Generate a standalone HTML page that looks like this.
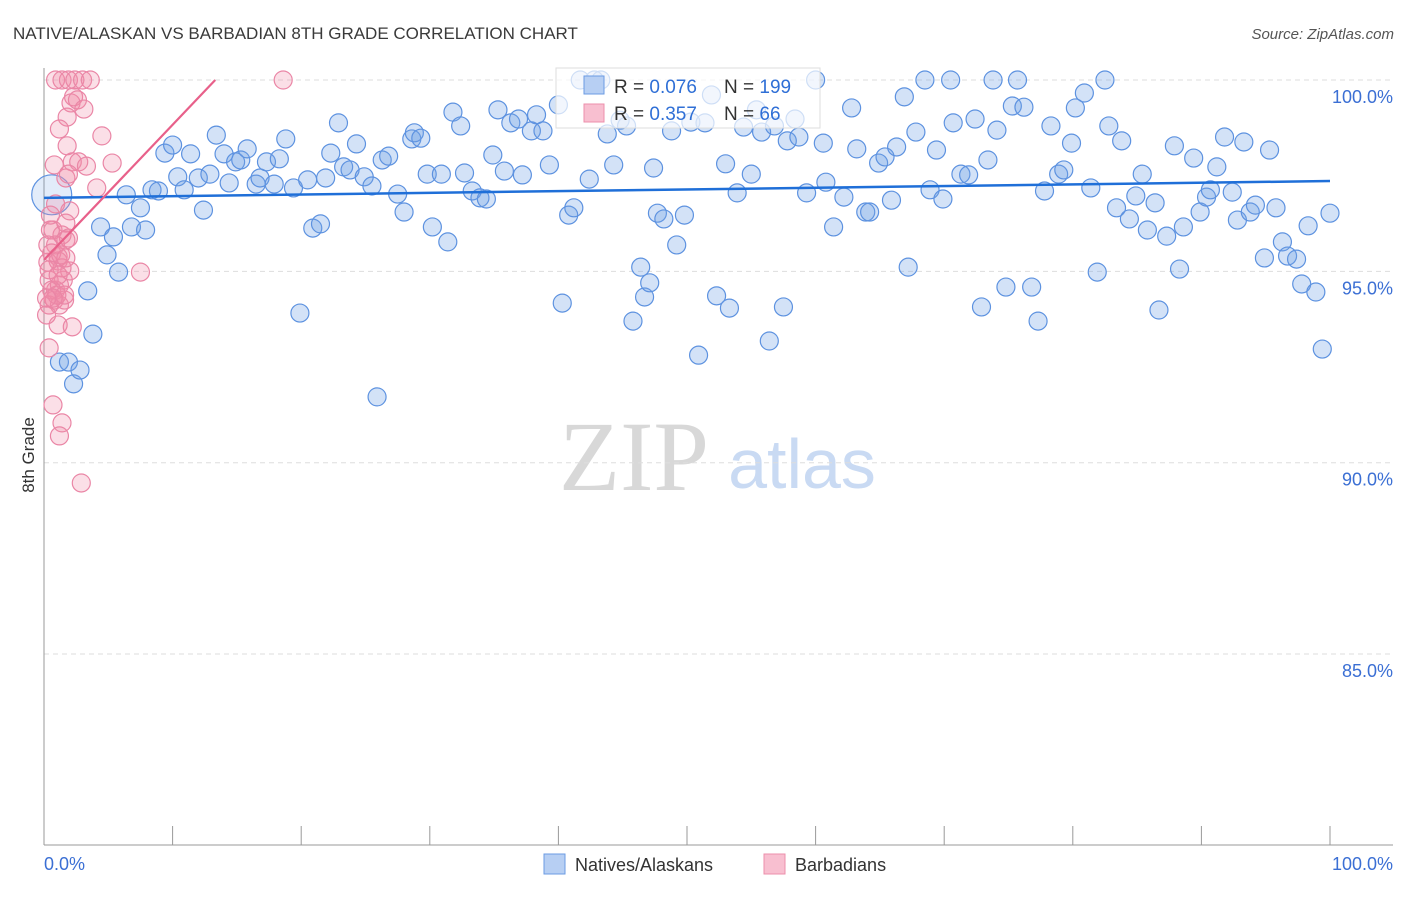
<!DOCTYPE html>
<html><head><meta charset="utf-8"><style>
body{margin:0;background:#fff;font-family:"Liberation Sans",sans-serif}
svg text{font-family:"Liberation Sans",sans-serif}
</style></head><body>
<svg id="chart" width="1406" height="892" xmlns="http://www.w3.org/2000/svg">
<text x="13" y="39" font-size="17" fill="#3a3a3a">NATIVE/ALASKAN VS BARBADIAN 8TH GRADE CORRELATION CHART</text>
<text x="1394" y="39" font-size="15" fill="#555" font-style="italic" text-anchor="end">Source: ZipAtlas.com</text>
<g>
<text x="634" y="490" font-size="100" fill="#d8d8d8" text-anchor="middle" style="font-family:'Liberation Serif',serif">ZIP</text>
<text x="802" y="488" font-size="70" fill="#c9daf3" text-anchor="middle">atlas</text>
</g>
<g id="grid"></g>
<g id="axes"></g>
<g id="pts"></g>
<g id="trends"></g>
<text transform="translate(34,455) rotate(-90)" font-size="17" fill="#333" text-anchor="middle">8th Grade</text>
<g>
<rect x="556" y="68" width="264" height="60" fill="#fff" fill-opacity="0.7" stroke="#ddd"/>
<rect x="584" y="76" width="20" height="18" fill="#b7cff3" stroke="#6b9be3"/>
<rect x="584" y="104" width="20" height="18" fill="#f8bfd0" stroke="#ec8fab"/>
<text x="614" y="93" font-size="19" fill="#333">R = <tspan fill="#2f6fd6">0.076</tspan><tspan x="724">N = </tspan><tspan fill="#2f6fd6">199</tspan></text>
<text x="614" y="120" font-size="19" fill="#333">R = <tspan fill="#2f6fd6">0.357</tspan><tspan x="724">N = </tspan><tspan fill="#2f6fd6"> 66</tspan></text>
</g>
<g>
<rect x="544" y="854" width="21" height="20" fill="#b7cff3" stroke="#6b9be3"/>
<text x="575" y="871" font-size="18" fill="#333">Natives/Alaskans</text>
<rect x="764" y="854" width="21" height="20" fill="#f8bfd0" stroke="#ec8fab"/>
<text x="795" y="871" font-size="18" fill="#333">Barbadians</text>
</g>
</svg>
<script>
const yTicks=[100,95,90,85];
const yTickLabels=["100.0%","95.0%","90.0%","85.0%"];
const xTickLabels=["0.0%","100.0%"];
const blueX=[0.6,1.2,1.9,2.3,2.8,3.4,3.8,4.4,4.9,5.4,5.8,6.4,6.8,7.5,7.9,8.4,8.9,9.4,10.0,10.4,10.9,11.4,12.0,12.4,12.9,13.4,14.0,14.4,14.9,15.3,15.8,16.5,16.8,17.3,17.9,18.3,18.8,19.4,19.9,20.5,20.9,21.5,21.9,22.3,22.9,23.3,23.8,24.3,24.9,25.5,25.9,26.3,26.8,27.5,28.0,28.6,28.8,29.3,29.8,30.2,30.9,31.4,31.8,32.4,32.7,33.3,33.9,34.4,34.9,35.3,35.8,36.3,36.9,37.2,37.9,38.3,38.8,39.3,40.0,40.3,40.8,41.2,41.7,42.4,42.8,43.3,43.8,44.3,44.8,45.3,45.8,46.4,46.7,47.1,47.4,47.7,48.2,48.8,49.2,49.8,50.3,50.9,51.4,51.9,52.3,53.0,53.3,53.9,54.4,55.0,55.4,55.8,56.4,56.8,57.5,57.8,58.4,58.7,59.3,60.0,60.6,60.8,61.4,62.2,62.8,63.2,63.9,64.2,64.9,65.4,65.9,66.3,66.9,67.2,67.8,68.5,68.9,69.4,69.9,70.5,70.7,71.3,71.9,72.4,72.9,73.4,73.8,74.1,74.8,75.3,75.7,76.2,76.8,77.3,77.8,78.3,78.9,79.3,79.9,80.2,80.9,81.4,81.9,82.5,82.8,83.4,83.8,84.4,84.9,85.4,85.8,86.4,86.7,87.3,87.9,88.3,88.6,89.4,89.9,90.4,90.7,91.2,91.8,92.4,92.8,93.3,93.8,94.2,94.9,95.3,95.8,96.3,96.7,97.4,97.8,98.3,98.9,99.4,100];
const blueY=[97.0,92.63,92.63,92.06,92.42,94.49,93.36,96.16,95.43,95.9,94.98,97.0,96.16,96.66,96.08,97.13,97.1,98.09,98.3,97.47,97.13,98.07,97.44,96.6,97.54,98.56,98.07,97.31,97.86,97.91,98.2,97.28,97.44,97.86,97.28,97.94,98.46,97.18,93.91,97.39,96.13,96.24,97.44,98.09,98.88,97.73,97.65,98.33,97.47,97.23,91.72,97.91,98.01,97.02,96.55,98.46,98.62,98.48,97.54,96.16,97.54,95.77,99.16,98.8,97.57,97.1,96.92,96.89,98.04,99.22,97.62,98.88,98.98,97.52,98.67,99.09,98.67,97.78,99.35,94.17,96.47,96.66,100,97.41,100,100,98.59,97.78,98.95,98.8,93.7,95.11,94.33,94.7,97.7,96.52,96.37,98.67,95.69,96.47,98.9,92.81,98.88,99.61,94.36,97.81,94.04,97.05,98.77,97.54,99.22,98.64,93.18,98.8,94.07,98.41,98.98,98.51,97.05,100,98.35,97.33,96.16,96.94,99.27,98.2,96.55,96.55,97.83,97.99,96.86,98.25,99.56,95.11,98.64,100,97.13,98.17,96.89,100,98.88,97.54,97.52,98.98,94.07,97.91,100,98.69,94.59,99.32,100,99.29,94.59,93.7,97.1,98.8,97.54,97.65,98.35,99.27,99.66,97.18,94.98,100,98.8,96.66,98.41,96.37,96.97,97.54,96.08,96.79,93.99,95.92,98.28,95.06,96.16,97.96,96.55,96.94,97.13,97.73,98.51,97.07,96.34,98.38,96.55,96.73,95.35,98.17,96.66,95.77,95.4,95.32,94.67,96.19,94.46,92.97,96.52];
const pinkX=[0.9,1.4,1.9,2.4,3.0,3.6,18.6,2.3,2.1,2.6,3.1,1.8,1.2,1.8,4.5,0.8,2.2,2.7,3.3,1.7,1.9,5.3,4.1,0.9,2.0,0.7,1.4,1.1,1.7,0.3,1.1,1.5,2.0,0.4,0.9,1.2,0.8,1.2,0.4,1.6,7.5,1.1,2.2,0.4,0.7,1.4,1.2,2.9,0.5,0.5,0.9,0.3,0.6,1.4,0.4,0.6,1.0,1.6,1.7,1.3,0.7,0.2,1.1,1.9,0.2,1.7];
const pinkY=[100,100,100,100,100,100,100,99.56,99.4,99.48,99.24,99.03,98.72,98.28,98.54,97.78,97.86,97.86,97.75,97.44,97.54,97.83,97.18,96.76,96.58,96.08,95.95,95.38,95.82,95.24,95.27,94.77,95.01,94.77,94.51,94.64,94.25,94.12,94.12,94.25,94.98,93.6,93.55,93.0,91.51,91.04,90.7,89.47,96.47,96.08,95.69,95.69,95.48,95.09,95.04,94.51,94.38,94.38,96.26,95.43,94.3,93.86,94.9,95.87,94.3,95.35];
const trendIntercept=[96.92,95.3];
const trendSlope=[0.0044,0.353];
const X=v=>44+v*12.86, Y=v=>80+(100-v)*38.27;
const NS="http://www.w3.org/2000/svg";
function mk(tag,attrs,parent){const e=document.createElementNS(NS,tag);for(const k in attrs)e.setAttribute(k,attrs[k]);parent.appendChild(e);return e;}
const grid=document.getElementById('grid'),axes=document.getElementById('axes');
yTicks.forEach((t,i)=>{
 const l=mk('line',{x1:44,x2:1393,y1:Y(t),y2:Y(t),stroke:'#ddd','stroke-dasharray':'5,4'},grid);
 
 
 const tx=mk('text',{x:1393,y:Y(t)+23,'font-size':18,fill:'#3b6fd4','text-anchor':'end'},axes);
 tx.textContent=yTickLabels[i];
 
 
});
mk('line',{x1:44,x2:44,y1:68,y2:845,stroke:'#999'},axes);
mk('line',{x1:44,x2:1393,y1:845,y2:845,stroke:'#999'},axes);
for(let i=0;i<=10;i++){const tk=mk('line',{x1:X(i*10),x2:X(i*10),y1:826,y2:845,stroke:'#999'},axes);
 
 }
const xl0=mk('text',{x:44,y:870,'font-size':18,fill:'#3b6fd4'},axes);xl0.textContent=xTickLabels[0];


const xl1=mk('text',{x:1393,y:870,'font-size':18,fill:'#3b6fd4','text-anchor':'end'},axes);xl1.textContent=xTickLabels[1];


const pts=document.getElementById('pts');
blueX.forEach((x,i)=>{const c=mk('circle',{cx:X(x),cy:Y(blueY[i]),r:i===0?20:9,fill:i===0?'rgba(110,160,230,0.2)':'rgba(110,160,230,0.3)',stroke:'#5d92e0','stroke-width':1.2},pts);
 
 });
pinkX.forEach((x,i)=>{const c=mk('circle',{cx:X(x),cy:Y(pinkY[i]),r:9,fill:'rgba(242,140,170,0.28)',stroke:'#ea86a6','stroke-width':1.2},pts);
 
 });
const tr=document.getElementById('trends');
const b=mk('line',{x1:X(0),y1:Y(trendIntercept[0]),x2:X(100),y2:Y(trendIntercept[0]+100*trendSlope[0]),stroke:'#1f6fd8','stroke-width':2.5},tr);


const xe=(100-trendIntercept[1])/trendSlope[1];
const p=mk('line',{x1:X(0),y1:Y(trendIntercept[1]),x2:X(xe),y2:Y(100),stroke:'#e8608a','stroke-width':2.2},tr);


</script>
</body></html>
